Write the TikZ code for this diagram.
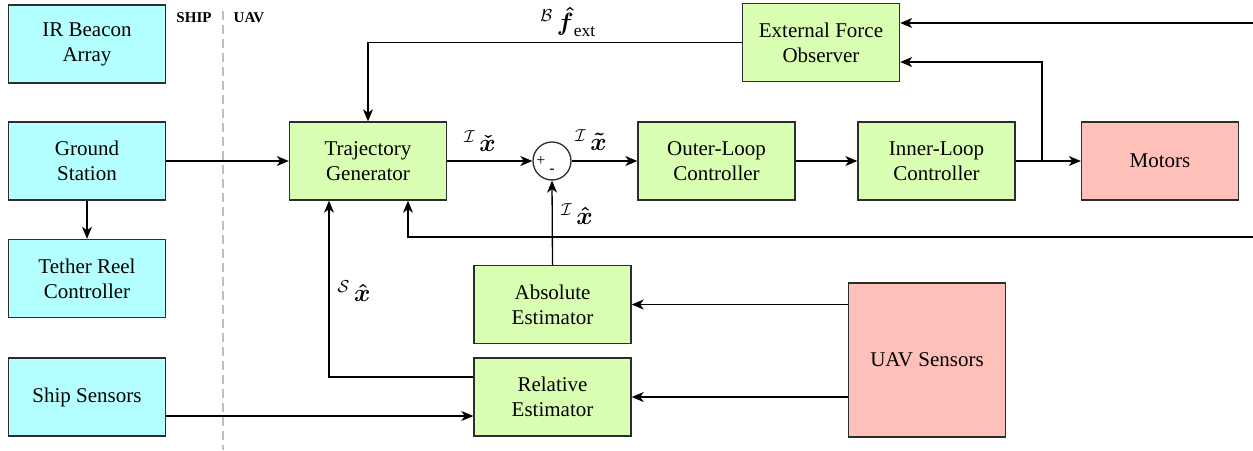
\documentclass[tikz,border=0pt]{standalone}
\usepackage{amsmath,amssymb}
\usepackage{fontspec}
\setmainfont{Liberation Serif}
\usetikzlibrary{arrows.meta,calc}

\definecolor{shipfill}{RGB}{180,255,255}
\definecolor{uavfill}{RGB}{217,255,179}
\definecolor{hwfill}{RGB}{255,192,186}
\definecolor{edge}{RGB}{45,45,45}
\definecolor{divider}{RGB}{190,190,190}

\tikzset{
  blk/.style={draw=edge, line width=1.4pt, minimum width=157pt, minimum height=78pt,
    align=center, inner sep=0pt, font=\fontsize{21}{25}\selectfont},
  shipblk/.style={blk, fill=shipfill},
  ctrlblk/.style={blk, fill=uavfill},
  hwblk/.style={blk, fill=hwfill},
  sig/.style={line width=1.3pt, -{Stealth[length=12pt,width=10pt,inset=3.5pt]}},
  lbl/.style={font=\fontsize{25}{30}\selectfont, inner sep=0pt},
  side/.style={font=\fontsize{15}{18}\selectfont\bfseries, inner sep=0pt},
  sumsign/.style={font=\fontsize{16}{18}\selectfont, inner sep=0pt},
}

\begin{document}
\begin{tikzpicture}[x=1pt,y=-1pt]
  \useasboundingbox (0,0) rectangle (1253,450);

  % ship / UAV divider
  \draw[divider, line width=2.5pt, dash pattern=on 9pt off 5pt] (223,11) -- (223,450);
  \node[side] (shiplbl) at (194,18) {SHIP};
  \node[side] (uavlbl) at (249,18) {UAV};

  % ship-side blocks
  \node[shipblk] (ir) at (87,44) {IR Beacon\\Array};
  \node[shipblk] (gs) at (87,161) {Ground\\Station};
  \node[shipblk] (tether) at (87,278.5) {Tether Reel\\Controller};
  \node[shipblk] (ship) at (87,397) {Ship Sensors};

  % UAV-side blocks
  \node[ctrlblk] (tg) at (368,161) {Trajectory\\Generator};
  \node[draw=edge, line width=1.3pt, circle, minimum size=38pt, inner sep=0pt] (sum) at (552,161) {};
  \node[sumsign] (plus) at (541,161) {+};
  \node[sumsign] (minus) at (552,171) {-};
  \node[ctrlblk] (outer) at (716.5,161) {Outer-Loop\\Controller};
  \node[ctrlblk] (inner) at (936.5,161) {Inner-Loop\\Controller};
  \node[hwblk] (motors) at (1160,161) {Motors};
  \node[ctrlblk] (efo) at (821,42.5) {External Force\\Observer};
  \node[ctrlblk] (abs) at (552.5,304.5) {Absolute\\Estimator};
  \node[ctrlblk] (rel) at (552.5,397) {Relative\\Estimator};
  \node[hwblk, minimum height=154pt] (uavs) at (927,360) {UAV Sensors};

  % free ends at the right border
  \coordinate (extin) at (1253,23);
  \coordinate (fbin) at (1253,237);
  \coordinate (tap) at (1042,161);

  % main loop
  \draw[sig] (gs.east) -- (tg.west);
  \draw[sig] (gs.south) -- (tether.north);
  \draw[sig] (tg.east) -- (sum.west);
  \draw[sig] (sum.east) -- (outer.west);
  \draw[sig] (outer.east) -- (inner.west);
  \draw[sig] (inner.east) -- (motors.west);

  % external force observer
  \draw[sig] (extin) -- ([yshift=19.5pt]efo.east);
  \draw[sig] (tap) |- ([yshift=-19.5pt]efo.east);
  \draw[sig] (efo.west) -| (tg.north);

  % state feedback
  \draw[sig] (fbin) -| ([xshift=40pt]tg.south);
  \draw[sig] (abs.north) -- (sum.south);
  \draw[sig] ([yshift=20pt]rel.west) -| ([xshift=-39pt]tg.south);
  \draw[sig] ([yshift=-19pt]ship.east) -- ([yshift=-19pt]rel.west);
  \draw[sig] (uavs.west |- abs.east) -- (abs.east);
  \draw[sig] (uavs.west |- rel.east) -- (rel.east);

  % signal labels
  \node[lbl] (fext) at (568,22) {${}^{\mathcal{B}}\,\boldsymbol{\hat{f}}_{\text{ext}}$};
  \node[lbl] (xref) at (480,141) {${}^{\mathcal{I}}\,\boldsymbol{\check{x}}$};
  \node[lbl] (xerr) at (591,140) {${}^{\mathcal{I}}\,\boldsymbol{\tilde{x}}$};
  \node[lbl] (xabs) at (577,214) {${}^{\mathcal{I}}\,\boldsymbol{\hat{x}}$};
  \node[lbl] (xrel) at (354,291) {${}^{\mathcal{S}}\,\boldsymbol{\hat{x}}$};
\end{tikzpicture}
\end{document}
